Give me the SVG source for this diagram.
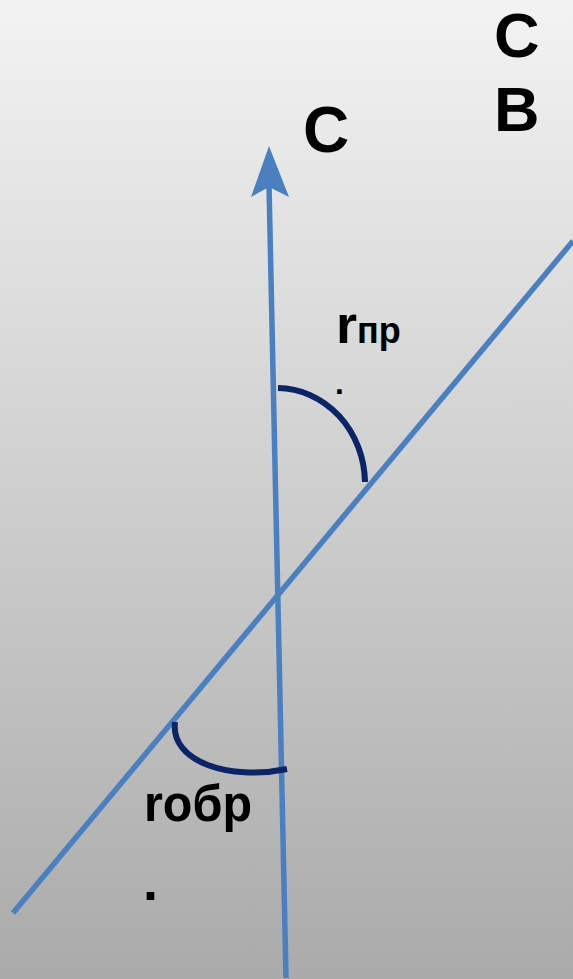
<svg xmlns="http://www.w3.org/2000/svg" width="573" height="979" viewBox="0 0 573 979">
<defs>
<linearGradient id="bg" x1="0" y1="0" x2="0" y2="1">
<stop offset="0" stop-color="#f3f3f3"/>
<stop offset="1" stop-color="#aaaaaa"/>
</linearGradient>
<style>
.ray{stroke:#4b80c0;stroke-width:5.5;fill:none}
.arc{stroke:#0b2468;stroke-width:6;fill:none}
.t{font-family:"Liberation Sans",Arial,sans-serif;font-weight:bold;fill:#000}
</style>
</defs>
<rect x="0" y="0" width="573" height="979" fill="url(#bg)"/>
<g id="connectors">
<line class="ray" x1="286" y1="978" x2="269" y2="185"/>
<polygon points="269,146 289,197 269,187 251,197" fill="#4b80c0"/>
<line class="ray" x1="13" y1="913" x2="573" y2="241"/>
</g>
<g id="angle-pr">
<path class="arc" d="M278,388 A 88 96 0 0 1 365,482"/>
<text class="t" x="336" y="343" font-size="54">r<tspan font-size="36">пр</tspan></text>
<text class="t" x="335" y="394" font-size="32">.</text>
</g>
<g id="angle-obr">
<path class="arc" d="M175,722 C 170,762 230,781 287,769"/>
<text class="t" x="144" y="821" font-size="52" textLength="108" lengthAdjust="spacingAndGlyphs">rобр</text>
<text class="t" x="143" y="900" font-size="54">.</text>
</g>
<g id="label-c">
<text class="t" x="303" y="152" font-size="64">C</text>
</g>
<g id="label-cb">
<text class="t" x="494" y="57" font-size="63">C</text>
<text class="t" x="494" y="131" font-size="63">B</text>
</g>
</svg>
